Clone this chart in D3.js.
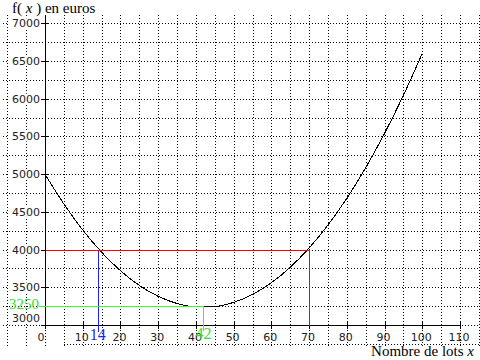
<!DOCTYPE html>
<html>
<head>
<meta charset="utf-8">
<script src="https://cdn.jsdelivr.net/npm/d3@7"></script>
<style>
  body { margin: 0; background: #fff; }
  svg { display: block; }
</style>
</head>
<body>
<div id="chart"></div>
<script>
// values
const lots = [0, 5, 10, 15, 20, 25, 30, 35, 40, 45, 50, 55, 60, 65, 70, 75, 80, 85, 90, 95, 100];
const cost = [5000, 4605, 4260, 3965, 3720, 3525, 3380, 3285, 3240, 3245, 3300, 3405, 3560, 3765, 4020, 4325, 4680, 5085, 5540, 6045, 6600];
const xTicks = [0, 10, 20, 30, 40, 50, 60, 70, 80, 90, 100, 110];
const yTicks = [3000, 3500, 4000, 4500, 5000, 5500, 6000, 6500, 7000];
const xGrid = [-10, -5, 0, 5, 10, 15, 20, 25, 30, 35, 40, 45, 50, 55, 60, 65, 70, 75, 80, 85, 90, 95, 100, 105, 110, 115];
const yGrid = [2750, 3000, 3250, 3500, 3750, 4000, 4250, 4500, 4750, 5000, 5250, 5500, 5750, 6000, 6250, 6500, 6750, 7000];
const budget = 4000, xLow = 14, xHigh = 70;
const minCost = 3250, xMin = 42;

const width = 480, height = 360;
const svg = d3.select('#chart').append('svg')
  .attr('width', width).attr('height', height);

const x = d3.scaleLinear().domain([0, 110]).range([45, 460]);
const y = d3.scaleLinear().domain([3000, 7000]).range([325, 23.3]);
const px = v => Math.round(x(v)) + 0.5;
const py = v => Math.round(y(v)) + 0.5;

// dotted grid
const grid = svg.append('g').attr('stroke', '#000').attr('stroke-width', 1)
  .attr('stroke-dasharray', '1,2').attr('shape-rendering', 'crispEdges');
grid.selectAll('line.v').data(xGrid).enter().append('line')
  .attr('x1', d => px(d)).attr('x2', d => px(d))
  .attr('y1', 15).attr('y2', 346);
grid.selectAll('line.h').data(yGrid).enter().append('line')
  .attr('y1', d => py(d)).attr('y2', d => py(d))
  .attr('x1', d => d === 2750 ? x(5) : 3).attr('x2', width);

// axes
const ax = svg.append('g').attr('stroke', '#000').attr('shape-rendering', 'crispEdges');
ax.append('line').attr('x1', px(0)).attr('x2', px(0)).attr('y1', 16).attr('y2', py(3000));
ax.append('line').attr('x1', px(0)).attr('x2', px(110)).attr('y1', py(3000)).attr('y2', py(3000));
ax.selectAll('line.xt').data(xTicks).enter().append('line')
  .attr('x1', d => px(d)).attr('x2', d => px(d))
  .attr('y1', py(3000) - 5).attr('y2', py(3000) + 3);
ax.selectAll('line.yt').data(yTicks).enter().append('line')
  .attr('y1', d => py(d)).attr('y2', d => py(d))
  .attr('x1', px(0) - 5).attr('x2', px(0) + 3);

// y tick labels with white backing
const yl = svg.append('g').attr('font-family', 'DejaVu Sans, sans-serif').attr('font-size', 11).attr('fill', '#222');
yTicks.forEach(v => {
  const cy = v === 3000 ? y(v) - 7 : y(v);
  yl.append('rect').attr('x', 9).attr('y', cy - 5).attr('width', 32).attr('height', 10).attr('fill', '#fff');
  yl.append('text').attr('x', 40).attr('y', cy + 4).attr('text-anchor', 'end').text(v);
});

// x tick labels
svg.append('g').attr('font-family', 'DejaVu Sans, sans-serif').attr('font-size', 11).attr('fill', '#222')
  .selectAll('text').data(xTicks).enter().append('text')
  .attr('x', d => d === 0 ? x(d) - 4 : x(d) - 1).attr('y', 341)
  .attr('text-anchor', 'middle').text(d => d);

// curve (aliased like the original)
const line = d3.line().x((d, i) => x(lots[i])).y(d => y(d)).curve(d3.curveMonotoneX);
svg.append('path').datum(cost).attr('d', line)
  .attr('fill', 'none').attr('stroke', '#000').attr('stroke-width', 1)
  .attr('shape-rendering', 'crispEdges');

const marks = svg.append('g').attr('fill', 'none').attr('stroke-width', 1).attr('shape-rendering', 'crispEdges');
// red: budget line
marks.append('path')
  .attr('d', `M${px(0)},${py(budget)}H${px(xHigh)}V${py(3000)}`)
  .attr('stroke', '#ff0000');
// blue: lower bound
marks.append('line').attr('x1', px(xLow)).attr('x2', px(xLow))
  .attr('y1', py(budget)).attr('y2', py(3000) + 6)
  .attr('stroke', '#1f1fff');
// green: minimum
marks.append('path')
  .attr('d', `M${px(0) - 7},${py(minCost)}H${px(xMin)}V${py(3000) + 5}`)
  .attr('stroke', '#33ff33');

// annotations
const serif = 'Liberation Serif, Times New Roman, serif';
svg.append('text').attr('x', x(xLow)).attr('y', 340).attr('text-anchor', 'middle')
  .attr('font-family', serif).attr('font-size', 16).attr('fill', '#1f1fff').text(xLow);
svg.append('text').attr('x', x(xMin)).attr('y', 339).attr('text-anchor', 'middle')
  .attr('font-family', serif).attr('font-size', 16).attr('fill', '#33dd33').text(xMin);
svg.append('text').attr('x', 39).attr('y', y(minCost) + 3).attr('text-anchor', 'end')
  .attr('font-family', serif).attr('font-size', 15).attr('fill', '#33dd33').text(minCost);

// axis titles
const ty = svg.append('text').attr('x', 12).attr('y', 13)
  .attr('font-family', serif).attr('font-size', 15).attr('fill', '#000');
ty.append('tspan').text('f( ');
ty.append('tspan').attr('font-style', 'italic').text('x');
ty.append('tspan').text(' ) en euros');

const tx = svg.append('text').attr('x', 474).attr('y', 356).attr('text-anchor', 'end')
  .attr('font-family', serif).attr('font-size', 15).attr('fill', '#000');
tx.append('tspan').text('Nombre de lots ');
tx.append('tspan').attr('font-style', 'italic').text('x');
</script>
</body>
</html>
